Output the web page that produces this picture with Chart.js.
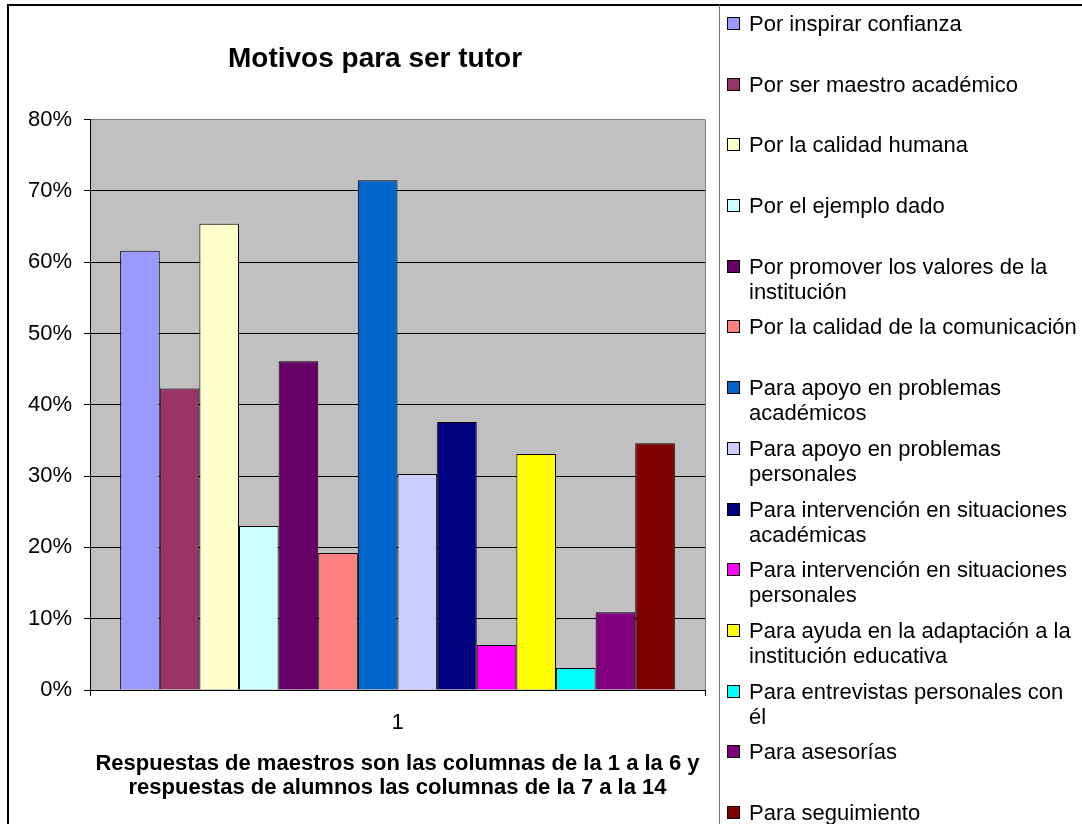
<!DOCTYPE html>
<html>
<head>
<meta charset="utf-8">
<script src="https://cdn.jsdelivr.net/npm/chart.js@4/dist/chart.umd.min.js"></script>
<style>
  html, body { margin: 0; padding: 0; background: #fff; }
  body { width: 1082px; height: 824px; position: relative; overflow: hidden; font-family: "Liberation Sans", Arial, sans-serif; }
  #wrap { position: absolute; left: 0; top: 0; width: 1082px; height: 824px; }
  .line { position: absolute; z-index: 5; }
  #legend { position: absolute; left: 0; top: 0; width: 1082px; height: 824px; z-index: 6; pointer-events: none; }
  .item { position: absolute; left: 727px; width: 354px; padding-left: 22px; box-sizing: border-box;
          font-size: 22px; line-height: 25px; color: #000; }
  .item .box { position: absolute; left: 0; top: 6px; width: 13px; height: 13px; box-sizing: border-box; border: 1px solid #000; }
</style>
</head>
<body>
<div id="wrap"><canvas id="c"></canvas></div>
<div class="line" style="left:7px; top:4px; width:2px; height:830px; background:#000;"></div>
<div class="line" style="left:7px; top:4px; width:1080px; height:2px; background:#000;"></div>
<div class="line" style="left:719px; top:5px; width:1px; height:830px; background:#777;"></div>
<div id="legend"></div>
<script>
const categories = ['1'];
const seriesNames = [
  'Por inspirar confianza',
  'Por ser maestro académico',
  'Por la calidad humana',
  'Por el ejemplo dado',
  'Por promover los valores de la institución',
  'Por la calidad de la comunicación',
  'Para apoyo en problemas académicos',
  'Para apoyo en problemas personales',
  'Para intervención en situaciones académicas',
  'Para intervención en situaciones personales',
  'Para ayuda en la adaptación a la institución educativa',
  'Para entrevistas personales con él',
  'Para asesorías',
  'Para seguimiento'
];
const seriesValues = [61.6, 42.3, 65.4, 23.0, 46.1, 19.2, 71.5, 30.3, 37.6, 6.3, 33.1, 3.1, 10.9, 34.6];
const seriesColors = ['#9999FF', '#993366', '#FFFFCC', '#CCFFFF', '#660066', '#FF8080', '#0066CC',
                      '#CCCCFF', '#000080', '#FF00FF', '#FFFF00', '#00FFFF', '#800080', '#800000'];
const chartTitle = 'Motivos para ser tutor';
const xTitleLines = ['Respuestas de maestros son las columnas de la 1 a la 6 y',
                     'respuestas de alumnos las columnas de la 7 a la 14'];
const yMin = 0, yMax = 80, yStep = 10;

const FONT = '"Liberation Sans", Arial, sans-serif';

const plotBg = {
  id: 'plotBg',
  beforeDraw(chart) {
    const {ctx, chartArea: a} = chart;
    ctx.save();
    ctx.fillStyle = '#C0C0C0';
    ctx.fillRect(a.left, a.top, a.right - a.left, a.bottom - a.top);
    ctx.restore();
  }
};

new Chart(document.getElementById('c'), {
  type: 'bar',
  data: {
    labels: categories,
    datasets: seriesNames.map((name, i) => ({
      label: name,
      data: [seriesValues[i]],
      backgroundColor: seriesColors[i],
      borderColor: '#000',
      borderWidth: 1,
      yAxisID: 'y'
    }))
  },
  options: {
    responsive: true,
    maintainAspectRatio: false,
    animation: false,
    devicePixelRatio: 1,
    layout: { padding: { left: 0, right: 332, top: 0, bottom: 0 } },
    datasets: { bar: { categoryPercentage: 0.902, barPercentage: 1 } },
    plugins: {
      legend: { display: false },
      tooltip: { enabled: false },
      title: {
        display: true,
        text: chartTitle,
        color: '#000',
        font: { family: FONT, size: 28, weight: 'bold', lineHeight: 1.2 },
        padding: { top: 42, bottom: 44 }
      }
    },
    scales: {
      x: {
        grid: { display: true, offset: true, color: '#808080', tickColor: '#000', tickLength: 6, drawOnChartArea: true },
        border: { display: true, color: '#000', width: 1 },
        ticks: { color: '#000', font: { family: FONT, size: 22 }, padding: 14 },
        title: {
          display: true,
          text: xTitleLines,
          color: '#000',
          font: { family: FONT, size: 22, weight: 'bold', lineHeight: 1.1 },
          padding: { top: 0, bottom: 24 }
        },
        afterFit(scale) { scale.height = 134; }
      },
      y: {
        min: yMin, max: yMax,
        ticks: { stepSize: yStep, color: '#000', font: { family: FONT, size: 22 }, padding: 12,
                 callback: v => v + '%' },
        grid: { color: ctx => (ctx.tick && ctx.tick.value === yMax) ? '#808080' : '#000', tickColor: '#000', tickLength: 6 },
        border: { display: true, color: '#000', width: 1 },
        afterFit(scale) { scale.width = 90; }
      },
      ySpace: {
        type: 'linear',
        position: 'right',
        min: yMin, max: yMax,
        grid: { display: false, drawTicks: false },
        border: { display: false },
        ticks: { display: false },
        afterFit(scale) { scale.width = 45; }
      }
    }
  },
  plugins: [plotBg]
});

// Legend (HTML, built from the series arrays)
const legend = document.getElementById('legend');
seriesNames.forEach((name, i) => {
  const it = document.createElement('div');
  it.className = 'item';
  it.style.top = (10.9 + 60.7 * i) + 'px';
  const b = document.createElement('span');
  b.className = 'box';
  b.style.background = seriesColors[i];
  it.appendChild(b);
  it.appendChild(document.createTextNode(name));
  legend.appendChild(it);
});
</script>
</body>
</html>
